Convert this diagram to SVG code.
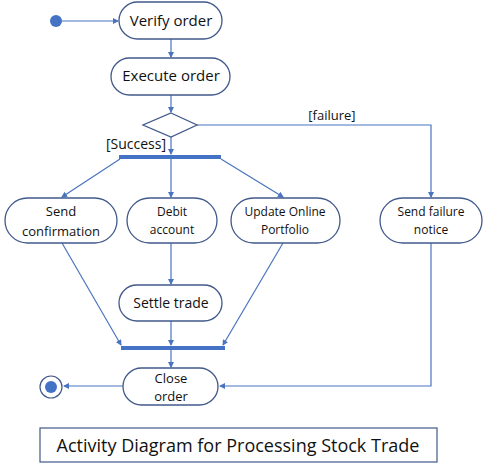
<svg xmlns="http://www.w3.org/2000/svg" width="484" height="467" viewBox="0 0 484 467">
<style>
.n{fill:#fff;stroke:#41598b;stroke-width:1.3}
.t{font-family:"Open Sans","Liberation Sans",sans-serif;fill:#111;text-anchor:middle}
.c{fill:none;stroke:#4a74bf;stroke-width:1.2;marker-end:url(#a)}
.bar{fill:#4472c4}
</style>
<defs><marker id="a" markerWidth="6" markerHeight="6" refX="5" refY="3" orient="auto" markerUnits="userSpaceOnUse"><path d="M0,0L6,3L0,6z" fill="#4a74bf"/></marker></defs>
<rect width="484" height="467" fill="#fff"/>
<g id="connectors">
<path class="c" d="M62,21H118"/>
<path class="c" d="M171,39V57"/>
<path class="c" d="M171,95V112"/>
<path class="c" d="M171,137V154"/>
<path class="c" d="M197,125H431V197"/>
<path class="c" d="M120,159L62,197"/>
<path class="c" d="M171,159V197"/>
<path class="c" d="M221,159L283,197"/>
<path class="c" d="M171,243V284"/>
<path class="c" d="M62,243L121,345"/>
<path class="c" d="M171,321V345"/>
<path class="c" d="M283,243L223,345"/>
<path class="c" d="M171,350V367"/>
<path class="c" d="M431,243V386H220"/>
<path class="c" d="M123,386H64"/>
</g>
<g id="start"><circle cx="56" cy="21" r="6" fill="#4472c4"/></g>
<g id="verify"><rect class="n" x="119" y="2" width="103" height="37" rx="18.5"/><text class="t" x="171" y="26" font-size="15">Verify order</text></g>
<g id="execute"><rect class="n" x="111" y="58" width="119" height="37" rx="18.5"/><text class="t" x="171" y="81" font-size="15">Execute order</text></g>
<g id="decision"><path class="n" d="M171,113L197,125L171,137L143,125z"/></g>
<text class="t" x="136" y="149" font-size="14">[Success]</text>
<text class="t" x="332" y="120" font-size="13">[failure]</text>
<g id="fork"><rect class="bar" x="119" y="155" width="102" height="4"/></g>
<g id="sendconf"><rect class="n" x="5" y="198" width="112" height="45" rx="22.5"/><text class="t" x="61" y="216" font-size="13">Send</text><text class="t" x="61" y="236" font-size="13">confirmation</text></g>
<g id="debit"><rect class="n" x="127" y="198" width="90" height="45" rx="22.5"/><text class="t" x="172" y="216" font-size="12">Debit</text><text class="t" x="172" y="234" font-size="12">account</text></g>
<g id="update"><rect class="n" x="231" y="198" width="109" height="45" rx="22.5"/><text class="t" x="285" y="216" font-size="12">Update Online</text><text class="t" x="285" y="234" font-size="12">Portfolio</text></g>
<g id="failure"><rect class="n" x="380" y="198" width="102" height="45" rx="22.5"/><text class="t" x="431" y="216" font-size="12">Send failure</text><text class="t" x="431" y="234" font-size="12">notice</text></g>
<g id="settle"><rect class="n" x="119" y="285" width="103" height="36" rx="18"/><text class="t" x="171" y="308" font-size="14">Settle trade</text></g>
<g id="join"><rect class="bar" x="121" y="346" width="104" height="4"/></g>
<g id="close"><rect class="n" x="123" y="368" width="95" height="37" rx="18.5"/><text class="t" x="171" y="383" font-size="13">Close</text><text class="t" x="171" y="401" font-size="13">order</text></g>
<g id="end"><circle cx="51" cy="387" r="11" fill="#fff" stroke="#41598b" stroke-width="1.2"/><circle cx="51" cy="387" r="6" fill="#4472c4"/></g>
<g id="title"><rect x="40" y="428" width="397" height="34" fill="#fff" stroke="#41598b" stroke-width="1.2"/><text class="t" x="238" y="452" font-size="18">Activity Diagram for Processing Stock Trade</text></g>
</svg>
